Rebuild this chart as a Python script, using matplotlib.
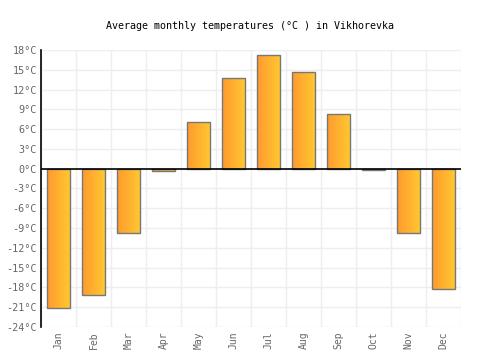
import numpy as np
import matplotlib
matplotlib.use('Agg')
from matplotlib import pyplot as plt
from matplotlib.colors import LinearSegmentedColormap

# Data
months = ['Jan', 'Feb', 'Mar', 'Apr', 'May', 'Jun',
          'Jul', 'Aug', 'Sep', 'Oct', 'Nov', 'Dec']
temps = [-21.2, -19.1, -9.7, -0.4, 7.1, 13.7, 17.2, 14.7, 8.3, -0.2, -9.7, -18.2]
yticks = list(range(-24, 19, 3))
ytick_labels = ['{}°C'.format(t) for t in yticks]

plt.rcParams['font.family'] = ['DejaVu Sans Mono']

fig = plt.figure(figsize=(5, 3.5), dpi=100)
ax = fig.add_axes([0.082, 0.066, 0.84, 0.791])

x = np.arange(len(months))
width = 0.66
grad = LinearSegmentedColormap.from_list('g', ['#ff9a2e', '#ffc931'])
gimg = np.linspace(0, 1, 64).reshape(1, -1)

bars = ax.bar(x, temps, width=width, color='none', edgecolor='#777777',
              linewidth=1.0, zorder=3)
for b in bars:
    x0, y0 = b.get_x(), b.get_y()
    w, h = b.get_width(), b.get_height()
    im = ax.imshow(gimg, cmap=grad, aspect='auto', zorder=2,
                   extent=[x0, x0 + w, min(y0, y0 + h), max(y0, y0 + h)])
    im.set_clip_path(b)

ax.set_xlim(-0.5, len(months) - 0.5)
ax.set_ylim(-24, 18)
ax.set_yticks(yticks)
ax.set_yticklabels(ytick_labels)
ax.set_xticks(x)
ax.set_xticklabels(months, rotation=90)

# grid
for gx in np.arange(-0.5, len(months), 1.0):
    ax.axvline(gx, color='#eeeeee', linewidth=1, zorder=0)
for gy in yticks:
    ax.axhline(gy, color='#eeeeee', linewidth=1, zorder=0)
ax.axhline(0, color='black', linewidth=1.2, zorder=4)

for s in ['top', 'right', 'bottom']:
    ax.spines[s].set_visible(False)
ax.spines['left'].set_color('black')
ax.spines['left'].set_linewidth(1.2)
ax.tick_params(axis='both', length=0, labelsize=7.3, colors='#666666', pad=3)
ax.tick_params(axis='x', pad=3.5, labelsize=7)

fig.text(0.5, 0.926, 'Average monthly temperatures (°C ) in Vikhorevka',
         ha='center', va='center', fontsize=7.2, color='black')

fig.savefig('out.png', dpi=100)
